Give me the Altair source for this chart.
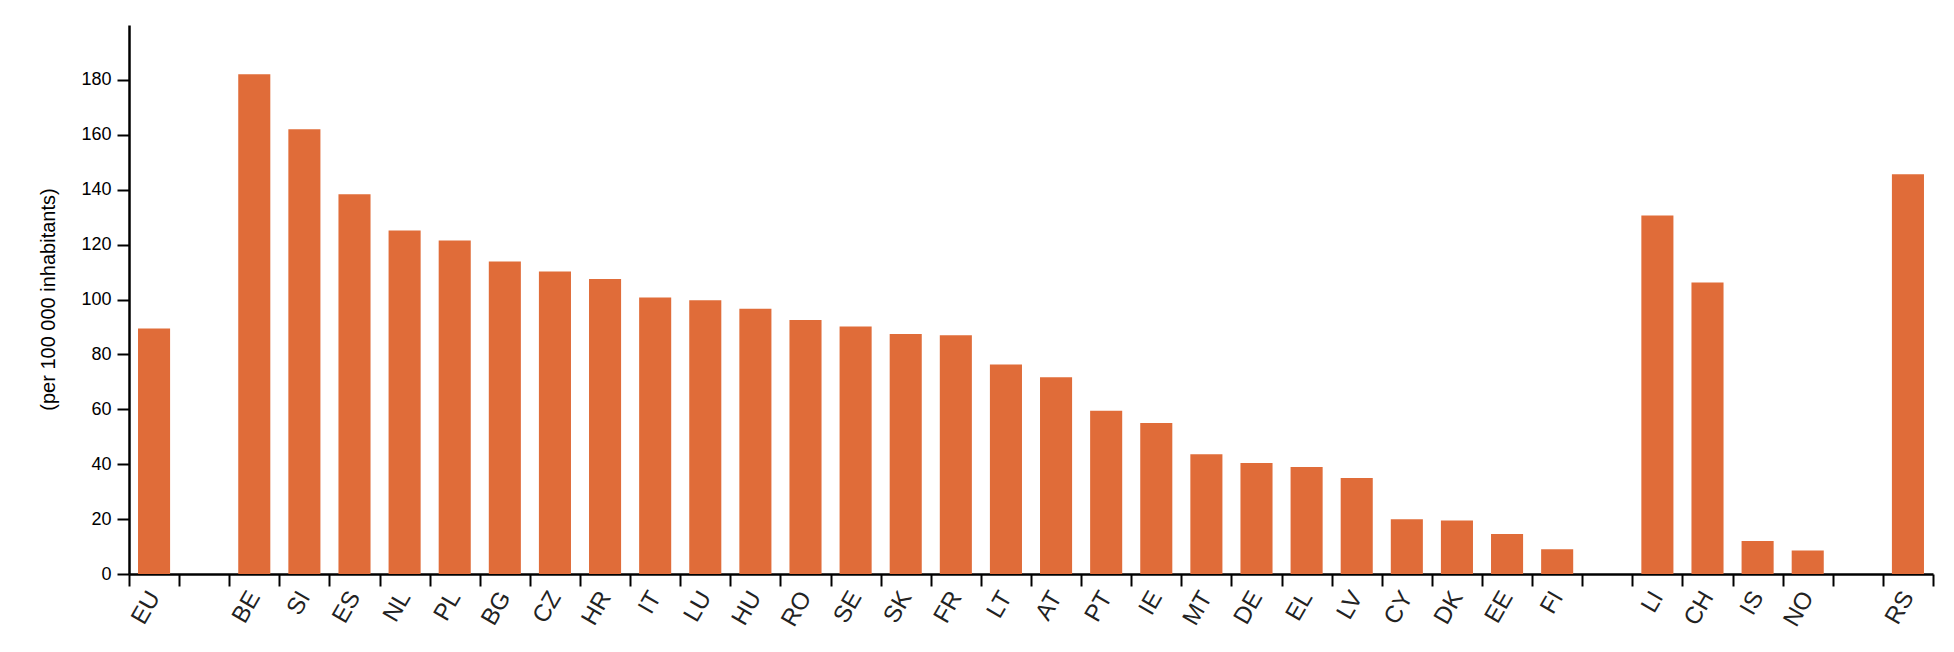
import altair as alt
import pandas as pd

categories = ["EU", " ", "BE", "SI", "ES", "NL", "PL", "BG", "CZ", "HR", "IT", "LU", "HU",
              "RO", "SE", "SK", "FR", "LT", "AT", "PT", "IE", "MT", "DE", "EL", "LV", "CY",
              "DK", "EE", "FI", "  ", "LI", "CH", "IS", "NO", "   ", "RS"]
values = [89.4, None, 182.1, 162.0, 138.3, 125.1, 121.5, 113.8, 110.2, 107.5, 100.7, 99.7, 96.6,
          92.5, 90.2, 87.4, 87.0, 76.3, 71.7, 59.5, 55.0, 43.6, 40.4, 39.0, 35.0, 19.9,
          19.5, 14.6, 9.0, None, 130.6, 106.2, 12.0, 8.6, None, 145.6]
y_ticks = [0, 20, 40, 60, 80, 100, 120, 140, 160, 180]

df = pd.DataFrame({"cat": categories, "val": values})

bars = alt.Chart(df).mark_bar(color="#e06c39", width=alt.RelativeBandSize(0.64)).encode(
    x=alt.X("cat:N", sort=categories,
            scale=alt.Scale(paddingInner=0, paddingOuter=0),
            axis=alt.Axis(title=None, labelAngle=-60, labelAlign="right", labelBaseline="middle",
                          labelFont="Liberation Sans", labelFontSize=24, labelColor="#222222",
                          labelPadding=7, tickBand="extent", tickSize=12, tickWidth=2,
                          tickColor="black", domainColor="black", domainWidth=2.5,
                          grid=False, labelOverlap=False)),
    y=alt.Y("val:Q", scale=alt.Scale(domain=[0, 200], nice=False),
            axis=alt.Axis(values=y_ticks, title="(per 100 000 inhabitants)",
                          titleFont="Liberation Sans", titleFontSize=20, titleFontWeight="normal",
                          titleColor="black", titleAngle=-90, titleX=-81, titleY=274,
                          titleAlign="center", titleBaseline="middle",
                          labelFont="Liberation Sans", labelFontSize=18, labelColor="black",
                          labelPadding=6, tickSize=12, tickWidth=2, tickColor="black",
                          domainColor="black", domainWidth=2.5, grid=False)),
)

chart = bars.properties(
    width=1804, height=549,
    background="white",
    autosize=alt.AutoSizeParams(type="none"),
    padding={"left": 121, "top": 17, "right": 13, "bottom": 60},
).configure_view(stroke=None)

chart.save("out.html", embed_options={"renderer": "svg", "actions": False})
